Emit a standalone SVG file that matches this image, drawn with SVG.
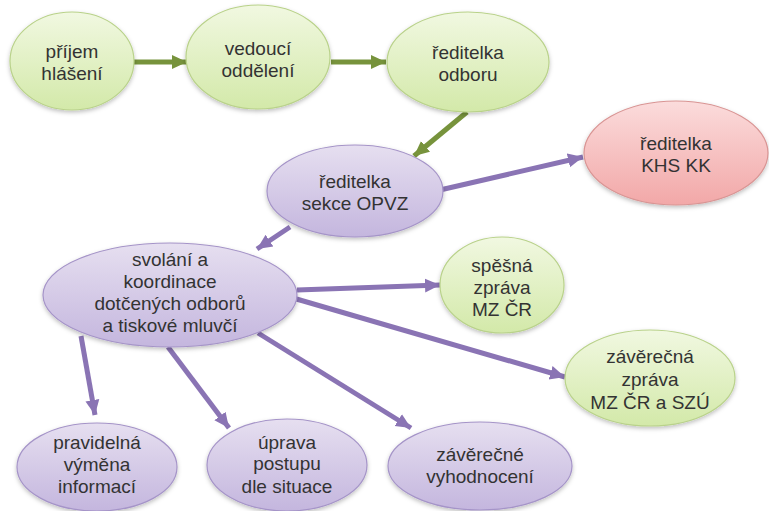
<svg xmlns="http://www.w3.org/2000/svg" width="769" height="511" viewBox="0 0 769 511">
<defs>
  <linearGradient id="gGreen" x1="0" y1="0" x2="0" y2="1">
    <stop offset="0" stop-color="#f1f8e1"/>
    <stop offset="1" stop-color="#d3e9a9"/>
  </linearGradient>
  <linearGradient id="gPurple" x1="0" y1="0" x2="0" y2="1">
    <stop offset="0" stop-color="#e6dff0"/>
    <stop offset="1" stop-color="#c4b6de"/>
  </linearGradient>
  <linearGradient id="gRed" x1="0" y1="0" x2="0" y2="1">
    <stop offset="0" stop-color="#fbdcdc"/>
    <stop offset="1" stop-color="#f2a8a8"/>
  </linearGradient>
  <filter id="shadow" x="-10%" y="-10%" width="120%" height="130%">
    <feDropShadow dx="0" dy="2" stdDeviation="2" flood-color="#000" flood-opacity="0.25"/>
  </filter>
  <marker id="arrG" markerUnits="userSpaceOnUse" markerWidth="16" markerHeight="16" refX="15" refY="8" orient="auto">
    <path d="M0,1 L15,8 L0,15 z" fill="#77933c"/>
  </marker>
  <marker id="arrP" markerUnits="userSpaceOnUse" markerWidth="16" markerHeight="16" refX="15" refY="8" orient="auto">
    <path d="M0,1 L15,8 L0,15 z" fill="#8a74b4"/>
  </marker>
</defs>
<style>
  .green { fill: url(#gGreen); stroke: #b9d28a; stroke-width: 1.2; filter: url(#shadow); }
  .purple { fill: url(#gPurple); stroke: #a594c8; stroke-width: 1.2; filter: url(#shadow); }
  .red { fill: url(#gRed); stroke: #d99594; stroke-width: 1.2; filter: url(#shadow); }
  text { font-family: "Liberation Sans", Arial, sans-serif; font-size: 19px; fill: #333333; text-anchor: middle; }
  .cg { stroke: #77933c; stroke-width: 5; fill: none; marker-end: url(#arrG); }
  .cp { stroke: #8a74b4; stroke-width: 5; fill: none; marker-end: url(#arrP); }
</style>
<rect width="769" height="511" fill="#ffffff"/>

<g id="connectors">
  <line class="cg" x1="134" y1="62" x2="187" y2="62"/>
  <line class="cg" x1="331" y1="62" x2="386" y2="62"/>
  <line class="cg" x1="467" y1="112" x2="414" y2="156"/>
  <line class="cp" x1="440" y1="190" x2="583" y2="157"/>
  <line class="cp" x1="290" y1="227" x2="257" y2="249"/>
  <line class="cp" x1="297" y1="290" x2="440" y2="285"/>
  <line class="cp" x1="293" y1="298" x2="565" y2="377"/>
  <line class="cp" x1="81" y1="336" x2="95" y2="415"/>
  <line class="cp" x1="168" y1="347" x2="229" y2="428"/>
  <line class="cp" x1="258" y1="333" x2="411" y2="428"/>
</g>

<g id="prijem">
  <ellipse class="green" cx="72" cy="61" rx="62" ry="49"/>
  <text x="72" y="58">příjem</text>
  <text x="72" y="80">hlášení</text>
</g>
<g id="vedouci">
  <ellipse class="green" cx="258" cy="57" rx="72" ry="52"/>
  <text x="258" y="55">vedoucí</text>
  <text x="258" y="77">oddělení</text>
</g>
<g id="reditelka-odboru">
  <ellipse class="green" cx="468" cy="62" rx="81" ry="50"/>
  <text x="468" y="59">ředitelka</text>
  <text x="468" y="81">odboru</text>
</g>
<g id="reditelka-khs">
  <ellipse class="red" cx="676" cy="153" rx="92" ry="52"/>
  <text x="676" y="150">ředitelka</text>
  <text x="676" y="172">KHS KK</text>
</g>
<g id="reditelka-sekce">
  <ellipse class="purple" cx="355" cy="191" rx="88" ry="46"/>
  <text x="355" y="188">ředitelka</text>
  <text x="355" y="210">sekce OPVZ</text>
</g>
<g id="svolani">
  <ellipse class="purple" cx="170" cy="295" rx="127" ry="52"/>
  <text x="170" y="266">svolání a</text>
  <text x="170" y="288">koordinace</text>
  <text x="170" y="310">dotčených odborů</text>
  <text x="170" y="332">a tiskové mluvčí</text>
</g>
<g id="spesna">
  <ellipse class="green" cx="502" cy="285" rx="62" ry="48"/>
  <text x="502" y="272">spěšná</text>
  <text x="502" y="294">zpráva</text>
  <text x="502" y="316">MZ ČR</text>
</g>
<g id="zaverecna-zprava">
  <ellipse class="green" cx="650" cy="378" rx="85" ry="48"/>
  <text x="650" y="363">závěrečná</text>
  <text x="650" y="386">zpráva</text>
  <text x="650" y="409">MZ ČR a SZÚ</text>
</g>
<g id="pravidelna">
  <ellipse class="purple" cx="97" cy="467" rx="80" ry="44"/>
  <text x="97" y="449">pravidelná</text>
  <text x="97" y="471">výměna</text>
  <text x="97" y="493">informací</text>
</g>
<g id="uprava">
  <ellipse class="purple" cx="287" cy="465" rx="80" ry="46"/>
  <text x="287" y="449">úprava</text>
  <text x="287" y="470">postupu</text>
  <text x="287" y="493">dle situace</text>
</g>
<g id="zaverecne">
  <ellipse class="purple" cx="480" cy="466" rx="92" ry="44"/>
  <text x="480" y="461">závěrečné</text>
  <text x="480" y="483">vyhodnocení</text>
</g>
</svg>
